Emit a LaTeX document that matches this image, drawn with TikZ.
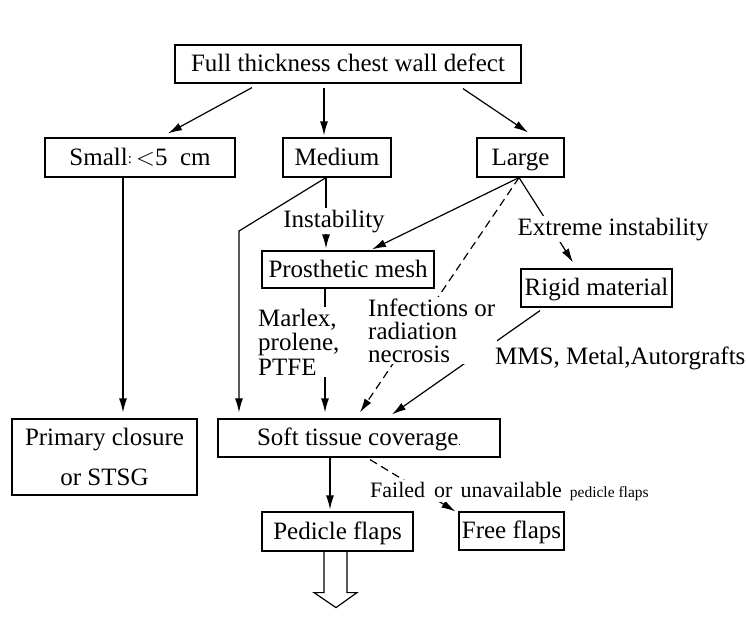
\documentclass[tikz,border=0pt]{standalone}
\usepackage{fontspec}
\setmainfont{Liberation Serif}
\usetikzlibrary{arrows.meta}
\begin{document}
\begin{tikzpicture}[x=1pt,y=-1pt,
  every node/.style={font=\fontsize{25}{30}\selectfont, inner sep=0pt},
  box/.style={draw, line width=1.2pt, align=center},
  sbox/.style={box, text height=18pt, text depth=3pt},
  lbl/.style={fill=white, inner sep=1.5pt, align=left},
  lblnf/.style={inner sep=1.5pt, align=left},
  arr/.style={line width=1.2pt, -{Latex[length=14pt,width=8pt]}},
  dsh/.style={arr, dash pattern=on 8pt off 5pt},
  ln/.style={line width=1.2pt}]
\useasboundingbox (0,0) rectangle (746,619);
% boxes
\node[sbox, minimum width=346pt, minimum height=38pt] (full) at (348,64) {Full thickness chest wall defect};
\node[sbox, minimum width=190pt, minimum height=39pt] (small) at (140,157.5) {Small\raisebox{1.5pt}{\fontsize{15}{15}\selectfont :}\,$<$5\ \ cm};
\node[sbox, minimum width=108pt, minimum height=39pt] (medium) at (337,157.5) {Medium};
\node[sbox, minimum width=87pt, minimum height=39pt] (large) at (520.5,157.5) {Large};
\node[sbox, minimum width=172pt, minimum height=37pt] (mesh) at (348,269.5) {Prosthetic mesh};
\node[sbox, minimum width=151pt, minimum height=38pt] (rigid) at (596.5,288) {Rigid material};
\node[box, minimum width=185pt, minimum height=76pt, font=\fontsize{25}{40}\selectfont] (primary) at (104.5,457) {Primary closure\\or STSG};
\node[sbox, minimum width=282pt, minimum height=38pt] (soft) at (359,438) {Soft tissue coverage{\fontsize{10}{10}\selectfont .}};
\node[sbox, minimum width=151pt, minimum height=39pt] (pedicle) at (337.5,531.5) {Pedicle flaps};
\node[sbox, minimum width=105pt, minimum height=38pt] (free) at (511.5,531) {Free flaps};
\coordinate (bend) at (239,231);
% connectors
\draw[arr] ([xshift=-96pt,yshift=-4pt]full.south) -- ([xshift=28pt,yshift=4pt]small.north);
\draw[arr] ([xshift=-24pt,yshift=-4pt]full.south) -- ([xshift=-13pt,yshift=2pt]medium.north);
\draw[arr] ([xshift=115pt,yshift=-5pt]full.south) -- ([xshift=7.5pt,yshift=5pt]large.north);
\draw[arr] ([xshift=-17pt]small.south) -- ([xshift=18.5pt,yshift=6pt]primary.north);
\draw[arr] ([xshift=-11pt]medium.south) -- (bend) -- ([xshift=-120pt,yshift=6pt]soft.north);
\draw[arr] ([xshift=-11pt]medium.south) -- ([xshift=-22pt,yshift=2pt]mesh.north);
\draw[arr] ([xshift=-1.5pt]large.south) -- ([xshift=24pt,yshift=1pt]mesh.north);
\draw[dsh] ([xshift=-1.5pt]large.south) -- ([xshift=1pt,yshift=6pt]soft.north);
\draw[arr] ([xshift=-1.5pt]large.south) -- ([xshift=-23.5pt,yshift=6pt]rigid.north);
\draw[arr] ([xshift=-23pt]mesh.south) -- ([xshift=-34pt,yshift=6pt]soft.north);
\draw[arr] ([xshift=-56.5pt,yshift=-3pt]rigid.south) -- ([xshift=33pt,yshift=4pt]soft.north);
\draw[arr] ([xshift=-29pt]soft.south) -- ([xshift=-7.5pt,yshift=2pt]pedicle.north);
\draw[dsh] ([xshift=11pt,yshift=-2pt]soft.south) -- ([xshift=-3pt]free.north west);
% hollow arrow
\draw[ln, line join=miter] ([xshift=-13.5pt]pedicle.south) -- ++(0,41) -- ++(-10,0) -- ++(22,15) -- ++(21,-15) -- ++(-10,0) -- ++(0,-41);
% labels
\node[lbl, anchor=base] (instab) at (334,227) {Instability};
\node[lbl, anchor=base west] (extreme) at (516,235) {Extreme instability};
\node[lbl, anchor=base west, font=\fontsize{25}{24.5}\selectfont] (marlex) at (256.5,375) {Marlex,\\prolene,\\PTFE};
\node[lbl, anchor=base west, font=\fontsize{25}{23}\selectfont] (infect) at (366.5,362) {Infections or\\radiation\\necrosis};
\node[lblnf, anchor=base west] (mms) at (493.5,364) {MMS, Metal,Autorgrafts};
\node[lbl, anchor=base west] (failed) at (368.5,497) {\fontsize{22}{22}\selectfont Failed\hspace{9pt}or\hspace{8pt}unavailable\hspace{8pt}\fontsize{15.5}{15.5}\selectfont pedicle flaps};
\end{tikzpicture}
\end{document}
